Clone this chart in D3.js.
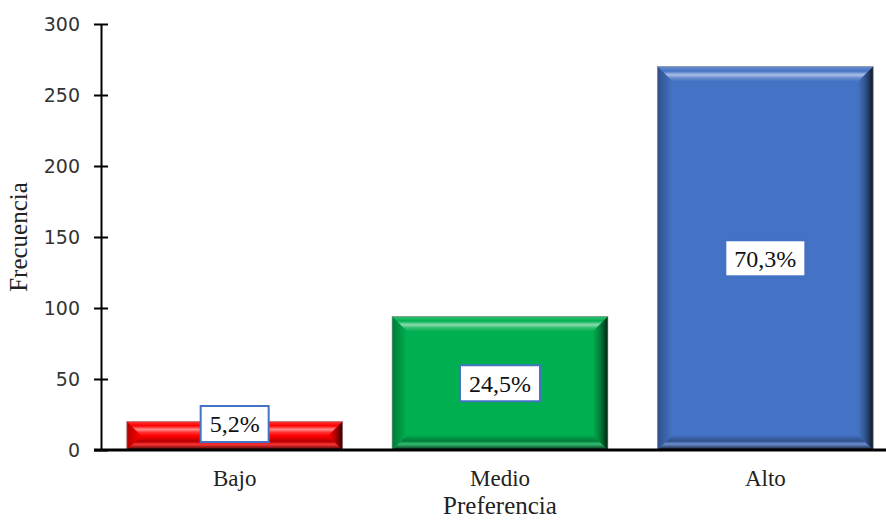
<!DOCTYPE html>
<html>
<head>
<meta charset="utf-8">
<script src="https://cdn.jsdelivr.net/npm/d3@7"></script>
<style>
  html, body { margin: 0; padding: 0; background: #fff; }
  svg { display: block; }
</style>
</head>
<body>
<svg id="chart" width="886" height="524"></svg>
<script>
// Frequencies by preference level
const categories = ["Bajo", "Medio", "Alto"];
const frequencies = [20, 94, 270];
const yTicks = [0, 50, 100, 150, 200, 250, 300];

// Fill colours per bar
const barColors = ["#FF0000", "#00B050", "#4472C4"];

const width = 886, height = 524;
const svg = d3.select("#chart");

const total = d3.sum(frequencies);
const locale = d3.formatLocale({ decimal: ",", thousands: ".", grouping: [3], currency: ["", ""] });
const pct = locale.format(".1%");

const y = d3.scaleLinear().domain([0, 300]).range([450, 24]);
const x = d3.scaleBand().domain(categories).range([102, 898])
  .paddingInner(0.187).paddingOuter(0.0935);

// Gradients for the bevelled bar edges
const defs = svg.append("defs");
barColors.forEach((c, i) => {
  const base = d3.color(c);
  const light = d3.interpolateRgb(c, "#ffffff")(0.55);
  const mid = d3.interpolateRgb(c, "#ffffff")(0.2);
  const dark = d3.interpolateRgb(c, "#000000")(0.8);
  const dim = d3.interpolateRgb(c, "#000000")(0.3);

  const top = defs.append("linearGradient").attr("id", `bev-top-${i}`)
    .attr("x1", 0).attr("y1", 0).attr("x2", 0).attr("y2", 1);
  top.append("stop").attr("offset", "0%").attr("stop-color", mid);
  top.append("stop").attr("offset", "30%").attr("stop-color", base);
  top.append("stop").attr("offset", "55%").attr("stop-color", light);
  top.append("stop").attr("offset", "75%").attr("stop-color", mid);
  top.append("stop").attr("offset", "100%").attr("stop-color", base);

  const right = defs.append("linearGradient").attr("id", `bev-right-${i}`)
    .attr("x1", 0).attr("y1", 0).attr("x2", 1).attr("y2", 0);
  right.append("stop").attr("offset", "0%").attr("stop-color", base);
  right.append("stop").attr("offset", "50%").attr("stop-color", dim);
  right.append("stop").attr("offset", "100%").attr("stop-color", dark);

  const left = defs.append("linearGradient").attr("id", `bev-left-${i}`)
    .attr("x1", 1).attr("y1", 0).attr("x2", 0).attr("y2", 0);
  left.append("stop").attr("offset", "0%").attr("stop-color", base);
  left.append("stop").attr("offset", "100%").attr("stop-color", dim);

  const bottom = defs.append("linearGradient").attr("id", `bev-bottom-${i}`)
    .attr("x1", 0).attr("y1", 0).attr("x2", 0).attr("y2", 1);
  bottom.append("stop").attr("offset", "0%").attr("stop-color", base);
  bottom.append("stop").attr("offset", "40%").attr("stop-color", dim);
  bottom.append("stop").attr("offset", "60%").attr("stop-color", mid);
  bottom.append("stop").attr("offset", "100%").attr("stop-color", dark);
});

// Bars
const bars = svg.append("g").selectAll("g.bar")
  .data(categories.map((c, i) => ({ cat: c, v: frequencies[i], i })))
  .join("g").attr("class", "bar");

bars.each(function(d) {
  const g = d3.select(this);
  const x0 = x(d.cat), w = x.bandwidth();
  const y0 = y(d.v), h = y(0) - y(d.v);
  const b = Math.min(15, h / 2, w / 2);
  const x1 = x0 + w, y1 = y0 + h;
  g.append("rect").attr("x", x0).attr("y", y0).attr("width", w).attr("height", h)
    .attr("fill", barColors[d.i]);
  const poly = (pts, id) => g.append("polygon")
    .attr("points", pts.map(p => p.join(",")).join(" "))
    .attr("fill", `url(#${id}-${d.i})`);
  poly([[x0, y0], [x1, y0], [x1 - b, y0 + b], [x0 + b, y0 + b]], "bev-top");
  poly([[x0, y1], [x1, y1], [x1 - b, y1 - b], [x0 + b, y1 - b]], "bev-bottom");
  poly([[x0, y0], [x0 + b, y0 + b], [x0 + b, y1 - b], [x0, y1]], "bev-left");
  poly([[x1, y0], [x1 - b, y0 + b], [x1 - b, y1 - b], [x1, y1]], "bev-right");
  g.append("rect").attr("x", x0).attr("y", y0).attr("width", w).attr("height", h)
    .attr("fill", "none").attr("stroke", "rgba(140,140,140,0.6)").attr("stroke-width", 1);
});

// Y axis with ticks crossing the line
const yAxis = svg.append("g").attr("transform", "translate(101,0)")
  .call(d3.axisLeft(y).tickValues(yTicks).tickSizeInner(7).tickSizeOuter(0).tickPadding(14));
yAxis.select(".domain").attr("stroke", "#000").attr("stroke-width", 2);
yAxis.selectAll(".tick line").attr("x1", -7).attr("x2", 7).attr("stroke", "#000").attr("stroke-width", 2);
yAxis.selectAll(".tick text")
  .attr("font-family", "'DejaVu Sans', Verdana, sans-serif")
  .attr("font-size", 19).attr("fill", "#333");

// X axis (category labels only, baseline drawn separately)
const xAxis = svg.append("g").attr("transform", "translate(0,450)")
  .call(d3.axisBottom(x).tickSize(0).tickPadding(20));
xAxis.select(".domain").remove();
xAxis.selectAll(".tick text")
  .attr("font-family", "'Liberation Serif', 'Times New Roman', serif")
  .attr("font-size", 23).attr("fill", "#222");
svg.append("line").attr("x1", 94).attr("x2", width).attr("y1", 450).attr("y2", 450)
  .attr("stroke", "#000").attr("stroke-width", 3);

// Percentage labels
const labels = svg.append("g").selectAll("g.lbl")
  .data(categories.map((c, i) => ({ cat: c, v: frequencies[i], i })))
  .join("g").attr("class", "lbl");
labels.each(function(d) {
  const g = d3.select(this);
  const cx = x(d.cat) + x.bandwidth() / 2;
  const cy = Math.min((y(d.v) + y(0)) / 2, y(0) - 26);
  const t = g.append("text").attr("x", cx).attr("y", cy).attr("dy", "0.35em")
    .attr("text-anchor", "middle")
    .attr("font-family", "'Liberation Serif', 'Times New Roman', serif")
    .attr("font-size", 24).attr("fill", "#111")
    .text(pct(d.v / total));
  const tw = t.node().getComputedTextLength();
  g.insert("rect", "text")
    .attr("x", cx - tw / 2 - 9).attr("y", cy - 18)
    .attr("width", tw + 18).attr("height", 36)
    .attr("fill", "#fff").attr("stroke", "#4472C4").attr("stroke-width", 2);
});

// Axis titles
svg.append("text").attr("x", 500).attr("y", 514).attr("text-anchor", "middle")
  .attr("font-family", "'Liberation Serif', 'Times New Roman', serif")
  .attr("font-size", 25).attr("fill", "#222").text("Preferencia");
svg.append("text").attr("transform", "translate(27,237) rotate(-90)").attr("text-anchor", "middle")
  .attr("font-family", "'Liberation Serif', 'Times New Roman', serif")
  .attr("font-size", 25).attr("fill", "#222").text("Frecuencia");
</script>
</body>
</html>
